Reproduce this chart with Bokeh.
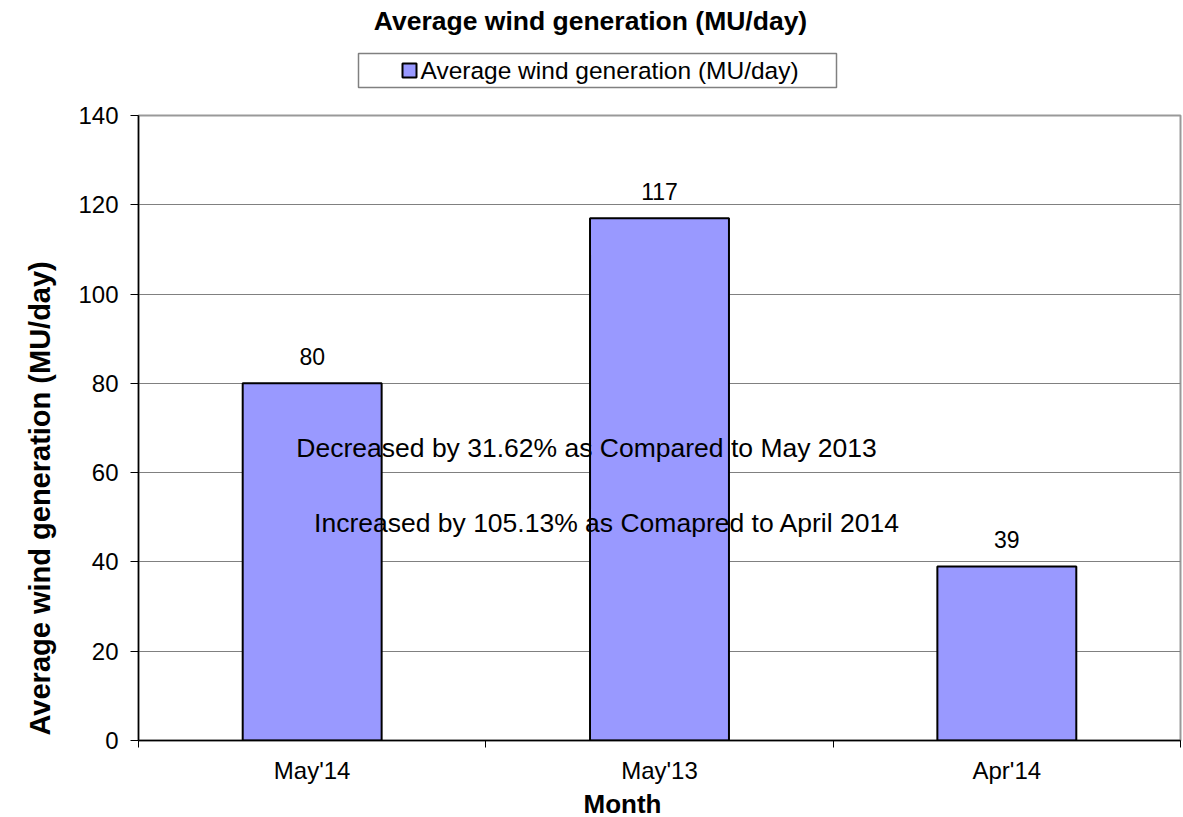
from bokeh.plotting import figure
from bokeh.layouts import column
from bokeh.models import (ColumnDataSource, Range1d, FixedTicker, LabelSet, Label, Title)
from bokeh.core.properties import value
from bokeh.embed import file_html
from bokeh.resources import INLINE

months = ["May'14", "May'13", "Apr'14"]
values = [80, 117, 39]
y_ticks = [0, 20, 40, 60, 80, 100, 120, 140]
note_1 = "Decreased by 31.62% as Compared to May 2013"
note_2 = "Increased by 105.13% as Comapred to  April 2014"
title_text = "Average wind generation (MU/day)"
series_name = "Average wind generation (MU/day)"
x_title = "Month"
y_title = "Average wind generation (MU/day)"

FONT = "Liberation Sans"
BAR_FILL = "#9999FF"

# layout geometry (page pixels)
FRAME_L, FRAME_R = 138, 1180
HEAD_H = 97

centers = [i + 0.5 for i in range(len(months))]
bounds = [i for i in range(len(months) + 1)]
source = ColumnDataSource(dict(x=centers, top=values,
                               label=[str(v) for v in values]))

# ---------- header: chart title + legend (coordinates = page pixels) ----------
head = figure(frame_width=FRAME_R - FRAME_L, frame_height=HEAD_H,
              output_backend="svg", toolbar_location=None,
              x_range=Range1d(FRAME_L, FRAME_R), y_range=Range1d(0, HEAD_H),
              x_axis_location=None, y_axis_location=None, title_location=None,
              min_border_left=FRAME_L, min_border_right=3,
              min_border_top=0, min_border_bottom=0)
head.grid.visible = False
head.outline_line_color = None
head.add_layout(Label(x=590, y=HEAD_H - 20, text=title_text, text_align="center",
                      text_baseline="middle", text_font=FONT, text_font_size="26.5px",
                      text_font_style="bold", text_color="black"))
# legend box, swatch and label
head.quad(left=[358], right=[836], bottom=[HEAD_H - 87], top=[HEAD_H - 53],
          fill_color="white", line_color="#808080", line_width=1.5)
head.quad(left=[402], right=[416], bottom=[HEAD_H - 77], top=[HEAD_H - 63],
          fill_color=BAR_FILL, line_color="black", line_width=2)
head.text(x=[420], y=[HEAD_H - 70], text=[series_name], text_baseline="middle",
          text_align="left", text_font=value(FONT), text_font_size="24.5px",
          text_color="black")

# ---------- main chart ----------
p = figure(frame_width=FRAME_R - FRAME_L, frame_height=625, output_backend="svg",
           toolbar_location=None, title_location=None,
           x_range=Range1d(0, len(months)), y_range=Range1d(0, 140),
           min_border_left=FRAME_L, min_border_right=3, min_border_top=18,
           min_border_bottom=73)

bars = p.vbar(x="x", top="top", width=0.4, bottom=0, source=source,
              fill_color=BAR_FILL, line_color="black", line_width=2)

labels = LabelSet(x="x", y="top", text="label", source=source,
                  text_align="center", text_baseline="bottom", y_offset=18,
                  text_font_size="23px", text_font=value(FONT), text_color="black")
p.add_layout(labels)

p.add_layout(Label(x=1.29, y=65.6, text=note_1, text_align="center",
                   text_baseline="middle", text_font_size="26.5px", text_font=FONT,
                   text_color="black"))
p.add_layout(Label(x=1.36, y=48.8, text=note_2, text_align="center",
                   text_baseline="middle", text_font_size="26.5px", text_font=FONT,
                   text_color="black"))

xa = p.xaxis[0]
xa.ticker = FixedTicker(ticks=centers, minor_ticks=bounds)
xa.major_label_overrides = {c: m for c, m in zip(centers, months)}
xa.major_tick_out = 0
xa.major_tick_in = 0
xa.minor_tick_out = 7
xa.minor_tick_in = 0
xa.minor_tick_line_color = "black"
xa.axis_line_color = "black"
xa.axis_line_width = 1.5
xa.major_label_text_font = FONT
xa.major_label_text_font_size = "24px"
xa.major_label_text_color = "black"
xa.major_label_standoff = 9

ya = p.yaxis[0]
ya.ticker = FixedTicker(ticks=y_ticks)
ya.minor_tick_line_color = None
ya.major_tick_out = 8
ya.major_tick_in = 0
ya.major_tick_line_color = "black"
ya.axis_line_color = "black"
ya.axis_line_width = 1.5
ya.major_label_text_font = FONT
ya.major_label_text_font_size = "24px"
ya.major_label_text_color = "black"
ya.major_label_standoff = 12

p.add_layout(Title(text=y_title, align="left", offset=5, text_font=FONT,
                   text_font_size="29px", text_font_style="bold",
                   text_color="black", standoff=36, vertical_align="top"), "left")
p.add_layout(Title(text=x_title, align="left", offset=445, text_font=FONT,
                   text_font_size="26px", text_font_style="bold",
                   text_color="black", standoff=0), "below")

p.xgrid.grid_line_color = None
p.ygrid.grid_line_color = "#808080"
p.ygrid.grid_line_width = 1
p.outline_line_color = "#999999"
p.outline_line_width = 2

layout = column(head, p, spacing=0)
open("out.html", "w").write(file_html(layout, INLINE))
